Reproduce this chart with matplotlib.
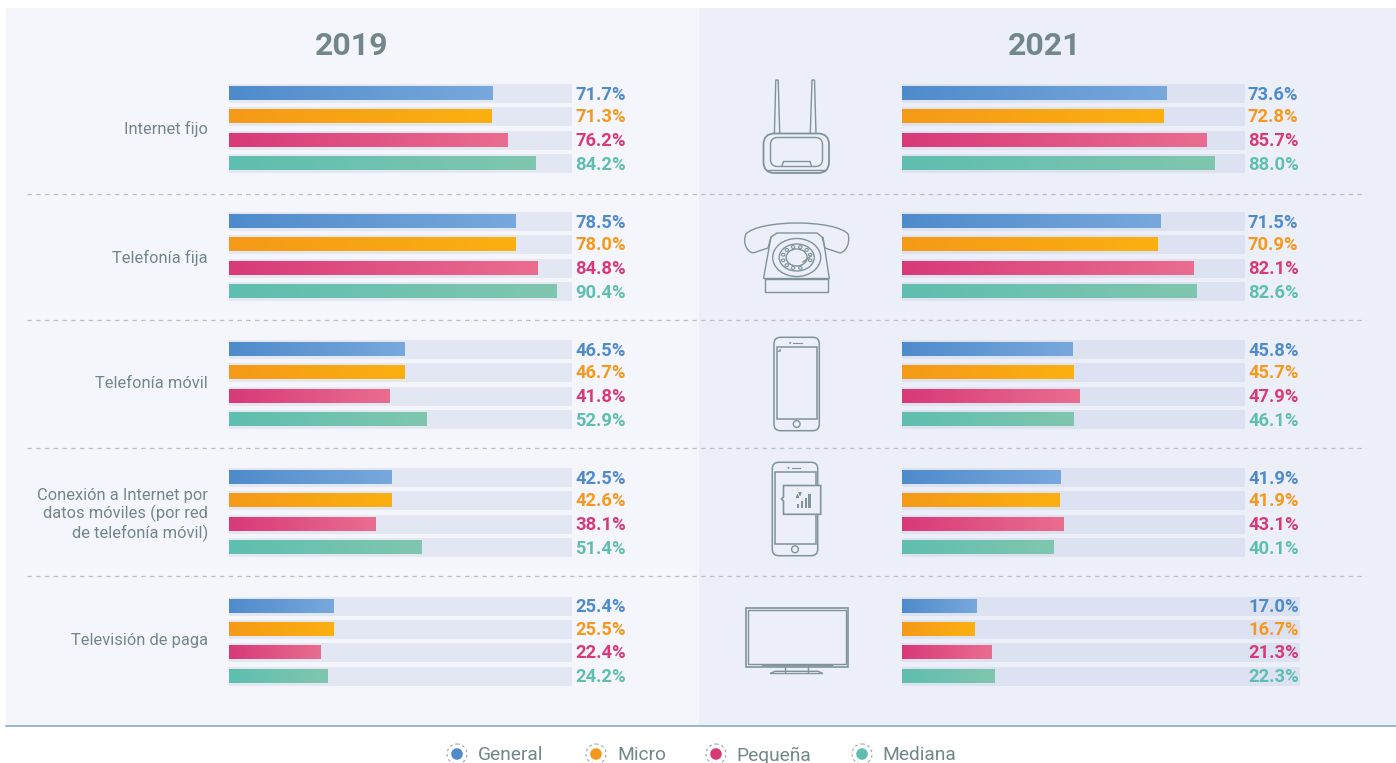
#!/usr/bin/env python3
"""Uso de servicios TIC por tamano de empresa, 2019 y 2021."""
import matplotlib
matplotlib.use("Agg")
import matplotlib.pyplot as plt
import numpy as np
from matplotlib.colors import to_rgb
from matplotlib.patches import Circle, Ellipse, FancyBboxPatch, PathPatch, Polygon, Rectangle
from matplotlib.path import Path

categories = ["Internet fijo", "Telefonía fija", "Telefonía móvil",
              "Conexión a Internet por\ndatos móviles (por red\nde telefonía móvil)",
              "Televisión de paga"]
years = ["2019", "2021"]
sizes = ["General", "Micro", "Pequeña", "Mediana"]

# printed values
general_2019 = [71.7, 78.5, 46.5, 42.5, 25.4]
micro_2019 = [71.3, 78.0, 46.7, 42.6, 25.5]
pequena_2019 = [76.2, 84.8, 41.8, 38.1, 22.4]
mediana_2019 = [84.2, 90.4, 52.9, 51.4, 24.2]
general_2021 = [73.6, 71.5, 45.8, 41.9, 17.0]
micro_2021 = [72.8, 70.9, 45.7, 41.9, 16.7]
pequena_2021 = [85.7, 82.1, 47.9, 43.1, 21.3]
mediana_2021 = [88.0, 82.6, 46.1, 40.1, 22.3]

# drawn bar lengths as % of the track: the original bars do not follow the printed values
bar_general_2019 = [76.8, 83.5, 51.3, 47.5, 30.6]
bar_micro_2019 = [76.5, 83.5, 51.3, 47.5, 30.6]
bar_pequena_2019 = [81.3, 89.9, 46.9, 42.7, 26.8]
bar_mediana_2019 = [89.5, 95.6, 57.7, 56.1, 28.7]
bar_general_2021 = [77.1, 75.5, 49.7, 46.2, 21.7]
bar_micro_2021 = [76.2, 74.6, 50.1, 45.9, 21.1]
bar_pequena_2021 = [88.9, 85.1, 51.7, 47.2, 26.2]
bar_mediana_2021 = [91.1, 86.0, 50.1, 44.3, 27.1]

GREY = "#72878b"
ICON = "#7f9398"
PANEL_L = "#f5f6fc"
PANEL_R = "#eceff8"
GRADIENTS = [("#4f8bcb", "#78a8dc"), ("#f59a17", "#fbb011"), ("#d83a78", "#e96d8f"), ("#5fbeb0", "#80c6ae")]
TEXT_COLORS = ["#4f8bcb", "#f7981d", "#d83a78", "#5fbeb0"]

plt.rcParams["font.family"] = ["Roboto", "DejaVu Sans"]

fig = plt.figure(figsize=(13.96, 7.63), dpi=100)
ax = fig.add_axes((0, 0, 1, 1))
ax.axis("off")

GROUP_Y = [84, 212, 340, 468, 596.5]
ROW_Y = [0, 23, 46.5, 70]
TRACK_H, BAR_H, TRACK_W = 19, 13.5, 343
LW = 1.0


def gradient_bar(x, y, w, h, c0, c1):
    t = np.linspace(0, 1, 64)[None, :, None]
    img = np.array(to_rgb(c0))[None, None, :] * (1 - t) + np.array(to_rgb(c1))[None, None, :] * t
    ax.imshow(img, extent=(x, x + w, y + h, y), aspect="auto", interpolation="bilinear", zorder=3)


def draw_panel(x0, track_color, values, bars, last_track_w):
    for g, gy in enumerate(GROUP_Y):
        for s, row in enumerate(ROW_Y):
            y = gy + row
            tw = last_track_w if g == len(GROUP_Y) - 1 else TRACK_W
            ax.add_patch(Rectangle((x0, y), tw, TRACK_H, fc=track_color, ec="none", zorder=2))
            gradient_bar(x0, y + (TRACK_H - BAR_H) / 2, bars[s][g] / 100 * TRACK_W, BAR_H, *GRADIENTS[s])
            ax.text(x0 + 346, y + TRACK_H / 2 + 1, f"{values[s][g]:.1f}%", color=TEXT_COLORS[s],
                    fontsize=13.2, fontweight="bold", va="center", ha="left", zorder=4)


def outline(pts, closed=False, fc="none", lw=LW):
    ax.add_patch(Polygon(pts, closed=closed, fc=fc, ec=ICON, lw=lw, zorder=3))


def rbox(x0, y0, x1, y1, r, fc="none", lw=LW):
    ax.add_patch(FancyBboxPatch((x0 + r, y0 + r), x1 - x0 - 2 * r, y1 - y0 - 2 * r,
                                boxstyle=f"round,pad={r},rounding_size={r}", fc=fc, ec=ICON, lw=lw, zorder=3))


def router():
    outline([(774.4, 133), (775.8, 80), (778.2, 80), (779.7, 133)], fc=PANEL_R)
    outline([(810.3, 133), (812, 80), (814.5, 80), (816, 133)], fc=PANEL_R)
    rbox(763.5, 133.5, 829, 173, 11, lw=1.3)
    rbox(770.5, 137.5, 822.5, 166.5, 7)
    ax.plot([768, 825], [169.8, 169.8], color=ICON, lw=LW, zorder=3)
    outline([(781.7, 166.5), (783.5, 161.5), (810, 161.5), (811.7, 166.5)])


def telephone():
    verts = [(753, 253), (745, 251), (743, 240), (746, 234),
             (752, 227), (775, 223), (797, 223),
             (820, 223), (842, 227), (848, 234),
             (850, 240), (848, 251), (840, 253),
             (825, 248), (822, 237), (817, 233), (777, 233), (771, 237), (768, 248), (753, 253)]
    codes = [Path.MOVETO] + [Path.CURVE4] * 12 + [Path.LINETO] * 7
    ax.add_patch(PathPatch(Path(verts, codes), fc="none", ec=ICON, lw=LW, zorder=3))
    outline([(771, 237), (763.5, 278.5), (829.3, 278.5), (823, 237)])
    outline([(765.3, 279), (765.3, 292.3), (827.7, 292.3), (827.7, 279)], closed=True)
    cx, cy = 796.7, 257.5
    for w, h in [(48, 38), (35, 27), (21, 17)]:
        ax.add_patch(Ellipse((cx, cy), w, h, fc="none", ec=ICON, lw=LW, zorder=3))
    for deg in [75, 105, 135, 165, 195, 225, 255, 285, 315, 345, 15]:
        a = np.radians(deg)
        ax.add_patch(Ellipse((cx + 14 * np.cos(a), cy + 10.8 * np.sin(a)), 3.4, 2.8,
                             fc="none", ec=ICON, lw=0.8, zorder=3))
    ax.plot([803, 811], [262, 256], color=ICON, lw=1.0, zorder=3)


def handset_body(x0, x1, y0, y1, sx0, sx1, sy0, sy1, home_y):
    rbox(x0, y0, x1, y1, 6.5, lw=1.1)
    ax.add_patch(Rectangle((sx0, sy0), sx1 - sx0, sy1 - sy0, fc="none", ec=ICON, lw=1.1, zorder=3))
    mid = (x0 + x1) / 2
    ax.add_patch(Circle((mid, home_y), 3.4, fc="none", ec=ICON, lw=LW, zorder=3))
    ax.plot([mid - 3.5, mid + 5], [y0 + 5.4, y0 + 5.4], color=ICON, lw=0.8, zorder=3)
    ax.add_patch(Circle((mid - 6.5, y0 + 5.6), 1, fc=ICON, ec="none", zorder=3))


def mobile():
    handset_body(774, 819.3, 337.3, 430.7, 776.5, 817.2, 347.3, 419.3, 424)
    outline([(778, 351.5), (780.5, 349), (780.5, 351.5)], closed=True, fc=ICON, lw=0.4)


def mobile_data():
    handset_body(772.3, 817.7, 462.3, 555.7, 774.5, 815.7, 472, 544.3, 549.3)
    outline([(783.5, 485.5), (820.7, 485.5), (820.7, 514.3), (783.5, 514.3), (783.5, 501), (781.5, 499), (783.5, 497)],
            closed=True, fc=PANEL_R, lw=1.2)
    for bx, h in [(796.7, 3.7), (800.7, 7), (804.7, 10), (808.2, 13.7)]:
        ax.add_patch(Rectangle((bx, 507.7 - h), 2.6, h, fc=ICON, ec="none", zorder=5))
    ax.annotate("", (797.5, 491), (797.5, 499), zorder=5,
                arrowprops=dict(arrowstyle="-|>", color=ICON, lw=0.9, mutation_scale=4))
    ax.annotate("", (800, 499), (800, 491), zorder=5,
                arrowprops=dict(arrowstyle="-|>", color=ICON, lw=0.9, mutation_scale=4))


def television():
    ax.add_patch(Rectangle((745.5, 607.5), 102.3, 59.7, fc="none", ec=ICON, lw=1.2, zorder=3))
    ax.add_patch(Rectangle((747.5, 609.5), 98.3, 54.3, fc="none", ec=ICON, lw=1.0, zorder=3))
    ax.plot([762, 832], [665.3, 665.3], color=ICON, lw=1.0, zorder=3)
    ax.plot([785.4, 785.4], [667, 671.5], color=ICON, lw=LW, zorder=3)
    ax.plot([807.6, 807.6], [667, 671.5], color=ICON, lw=LW, zorder=3)
    outline([(770, 673.5), (775, 671.3), (818, 671.3), (823, 673.5)], closed=True)


# backgrounds
ax.add_patch(Rectangle((6, 8), 693, 718, fc=PANEL_L, ec="none", zorder=0))
ax.add_patch(Rectangle((699, 8), 697, 718, fc=PANEL_R, ec="none", zorder=0))
ax.plot([6, 1396], [726, 726], color="#8aa8d8", lw=1.2, zorder=1)
for y in [194, 320, 448, 576]:
    ax.plot([27, 1366], [y, y], color="#b9bfc4", lw=0.9, dashes=(3.5, 3.5), zorder=1)

ax.text(352, 46, years[0], color=GREY, fontsize=23, fontweight="bold", ha="center", va="center")
ax.text(1045, 46, years[1], color=GREY, fontsize=23, fontweight="bold", ha="center", va="center")

for cat, y in zip(categories, [129, 258, 384, 515, 641]):
    ax.text(208, y, cat, color=GREY, fontsize=11.9, ha="right", va="center", linespacing=1.2)

draw_panel(229, "#e3e7f4", [general_2019, micro_2019, pequena_2019, mediana_2019],
           [bar_general_2019, bar_micro_2019, bar_pequena_2019, bar_mediana_2019], TRACK_W)
draw_panel(902, "#dde2f2", [general_2021, micro_2021, pequena_2021, mediana_2021],
           [bar_general_2021, bar_micro_2021, bar_pequena_2021, bar_mediana_2021], 398)

router()
telephone()
mobile()
mobile_data()
television()

# legend
for name, cx, tx, color in zip(sizes, [457, 596, 716, 862], [478, 617, 736, 882], TEXT_COLORS):
    ax.add_patch(Circle((cx, 754), 10, fc="none", ec="#9aa7ab", lw=0.8, ls=(0, (2.5, 2.5)), zorder=3))
    ax.add_patch(Circle((cx, 754), 5.8, fc=color, ec="none", zorder=4))
    ax.text(tx, 755.5, name, color=GREY, fontsize=13.8, ha="left", va="center")

ax.set_xlim(0, 1396)
ax.set_ylim(763, 0)
fig.savefig("out.png", dpi=100, facecolor="white")
